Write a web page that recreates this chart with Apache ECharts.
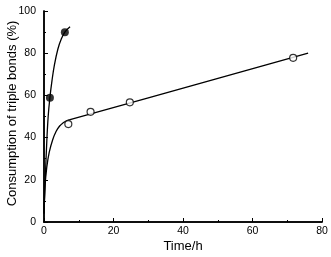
<!DOCTYPE html>
<html><head><meta charset="utf-8">
<script src="https://cdn.jsdelivr.net/npm/echarts@6/dist/echarts.min.js"></script>
<style>html,body{margin:0;padding:0;background:#fff}#c{width:331px;height:257px}</style>
</head><body><div id="c"></div>
<script>
// Data
var filledPts = [[1.7, 58.9], [6.0, 89.9]];
var openPts = [[7.0, 46.4], [13.4, 52.2], [24.7, 56.7], [71.7, 77.8]];
var filledCurve = [[0, 4], [0.4, 22], [0.8, 38], [1.2, 50], [1.7, 59], [2.3, 67], [3, 74.5], [4, 82], [5, 86.8], [6, 90], [7.5, 92.5]];
var openCurve = [[0, 4], [0.3, 17], [0.8, 26], [1.5, 33], [2.5, 39], [3.5, 43], [4.5, 45.5], [5.5, 47], [6.5, 48], [7.5, 48.5], [76, 80]];
var xTicks = [0, 20, 40, 60, 80];
var yTicks = [0, 20, 40, 60, 80, 100];

var font = 'Liberation Sans, Arial, Helvetica, sans-serif';
var chart = echarts.init(document.getElementById('c'), null, {renderer: 'canvas'});
var axisCommon = {
  axisLine: {show: true, onZero: false, lineStyle: {color: '#000', width: 1.5}},
  axisTick: {show: true, inside: true, length: 4, lineStyle: {color: '#000', width: 1}},
  minorTick: {show: true, splitNumber: 2, length: 2, lineStyle: {color: '#000', width: 1}},
  splitLine: {show: false}
};
chart.setOption({
  animation: false,
  backgroundColor: '#fff',
  grid: {left: 44, right: 9, top: 11, bottom: 35, containLabel: false, outerBoundsMode: 'none'},
  xAxis: [
    Object.assign({type: 'value', min: xTicks[0], max: xTicks[xTicks.length - 1], interval: 20,
      name: 'Time/h', nameLocation: 'middle', nameGap: 18, nameMoveOverlap: false,
      nameTextStyle: {fontFamily: font, fontSize: 13, color: '#000'},
      axisLabel: {fontFamily: font, fontSize: 10.5, color: '#000', margin: 4}}, axisCommon),
    {type: 'value', position: 'top', min: 0, max: 80, axisLine: {show: true, lineStyle: {color: '#000', width: 1.5}}, axisTick: {show: false}, axisLabel: {show: false}, splitLine: {show: false}}
  ],
  yAxis: [
    Object.assign({type: 'value', min: yTicks[0], max: yTicks[yTicks.length - 1], interval: 20,
      name: 'Consumption of triple bonds (%)', nameLocation: 'middle', nameGap: 25, nameRotate: 90, nameMoveOverlap: false,
      nameTextStyle: {fontFamily: font, fontSize: 13, color: '#000', padding: [0, 0, 0, 6]},
      axisLabel: {fontFamily: font, fontSize: 10.5, color: '#000', margin: 8}}, axisCommon),
    {type: 'value', position: 'right', min: 0, max: 100, axisLine: {show: true, lineStyle: {color: '#000', width: 1.5}}, axisTick: {show: false}, axisLabel: {show: false}, splitLine: {show: false}}
  ],
  series: [
    {type: 'line', data: filledCurve, smooth: 0.4, showSymbol: false, lineStyle: {color: '#000', width: 1.3}, z: 2},
    {type: 'line', data: openCurve, smooth: 0.4, showSymbol: false, lineStyle: {color: '#000', width: 1.3}, z: 2},
    {type: 'scatter', data: filledPts, symbol: 'circle', symbolSize: 8, itemStyle: {color: '#000'}, z: 3},
    {type: 'scatter', data: openPts, symbol: 'circle', symbolSize: 7, itemStyle: {color: '#fff', borderColor: '#000', borderWidth: 1.2}, z: 3}
  ]
});
</script></body></html>
